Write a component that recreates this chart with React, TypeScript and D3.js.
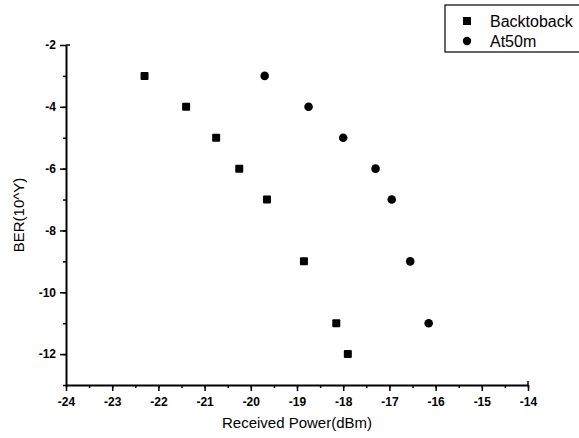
import React, { useEffect, useRef } from "react"
import * as d3 from "d3"

// BER vs received power
const berLevels = [-3, -4, -5, -6, -7, -9, -11, -12]
const backToBackPower = [-22.3, -21.4, -20.75, -20.25, -19.65, -18.85, -18.15, -17.9]
const at50mLevels = [-3, -4, -5, -6, -7, -9, -11]
const at50mPower = [-19.7, -18.75, -18.0, -17.3, -16.95, -16.55, -16.15]
const xTicks = d3.range(-24, -13, 1)
const yTicks = [-2, -4, -6, -8, -10, -12]
const legendNames = ["Backtoback", "At50m"]

const W = 579
const H = 438
const FONT = "Liberation Sans, Arial, sans-serif"

export default function App() {
  const ref = useRef<SVGSVGElement>(null)

  useEffect(() => {
    const svg = d3.select(ref.current)
    svg.selectAll("*").remove()

    const x = d3.scaleLinear().domain([-24, -14]).range([66, 528])
    const y = d3.scaleLinear().domain([-13, -2]).range([385, 45])

    const g = svg.append("g")

    // x axis: major ticks + half-unit minor ticks
    const xAxis = g.append("g").attr("transform", "translate(0,385)")
    xAxis
      .call(
        d3
          .axisBottom(x)
          .tickValues(d3.range(-24, -13.9, 0.5))
          .tickSize(3)
          .tickFormat(() => "")
      )
      .call(a => a.select(".domain").remove())
    xAxis.selectAll("line").attr("stroke", "#000").attr("stroke-width", 1.5)
    const xMajor = g.append("g").attr("transform", "translate(0,385)")
    xMajor
      .call(
        d3
          .axisBottom(x)
          .tickValues(xTicks)
          .tickSize(6)
          .tickSizeOuter(0)
          .tickPadding(6)
          .tickFormat(d => String(d))
      )
    xMajor.select(".domain").attr("stroke", "#000").attr("stroke-width", 2)
    xMajor.selectAll("line").attr("stroke", "#000").attr("stroke-width", 1.5)
    xMajor
      .selectAll("text")
      .attr("font-family", FONT)
      .attr("font-size", 12)
      .attr("font-weight", "bold")
      .attr("fill", "#000")

    // y axis
    const yMinor = g.append("g").attr("transform", "translate(66,0)")
    yMinor
      .call(
        d3
          .axisLeft(y)
          .tickValues(d3.range(-13, -2, 1))
          .tickSize(3)
          .tickFormat(() => "")
      )
      .call(a => a.select(".domain").remove())
    yMinor.selectAll("line").attr("stroke", "#000").attr("stroke-width", 1.5)
    const yMajor = g.append("g").attr("transform", "translate(66,0)")
    yMajor.call(
      d3
        .axisLeft(y)
        .tickValues(yTicks)
        .tickSize(6)
        .tickSizeOuter(0)
        .tickPadding(4)
        .tickFormat(d => String(d))
    )
    yMajor.select(".domain").attr("stroke", "#000").attr("stroke-width", 2)
    yMajor.selectAll("line").attr("stroke", "#000").attr("stroke-width", 1.5)
    yMajor
      .selectAll("text")
      .attr("font-family", FONT)
      .attr("font-size", 12)
      .attr("font-weight", "bold")
      .attr("fill", "#000")
    // small hooks at the axis ends
    g.append("line")
      .attr("x1", 66).attr("x2", 70)
      .attr("y1", y(-2)).attr("y2", y(-2))
      .attr("stroke", "#000").attr("stroke-width", 1.5)
    g.append("line")
      .attr("x1", x(-14)).attr("x2", x(-14))
      .attr("y1", 381).attr("y2", 385)
      .attr("stroke", "#000").attr("stroke-width", 1.5)

    // axis titles
    g.append("text")
      .attr("x", (x(-24) + x(-14)) / 2)
      .attr("y", 428)
      .attr("text-anchor", "middle")
      .attr("font-family", FONT)
      .attr("font-size", 15)
      .attr("fill", "#000")
      .text("Received Power(dBm)")
    g.append("text")
      .attr("transform", `translate(24,${(y(-2) + y(-13)) / 2}) rotate(-90)`)
      .attr("text-anchor", "middle")
      .attr("font-family", FONT)
      .attr("font-size", 15)
      .attr("fill", "#000")
      .text("BER(10^Y)")

    // points
    const sq = 8
    g.selectAll("rect.b2b")
      .data(backToBackPower)
      .enter()
      .append("rect")
      .attr("class", "b2b")
      .attr("x", d => x(d) - sq / 2)
      .attr("y", (d, i) => y(berLevels[i]) - sq / 2)
      .attr("width", sq)
      .attr("height", sq)
      .attr("rx", 1)
      .attr("fill", "#000")
    g.selectAll("circle.at50")
      .data(at50mPower)
      .enter()
      .append("circle")
      .attr("class", "at50")
      .attr("cx", d => x(d))
      .attr("cy", (d, i) => y(at50mLevels[i]))
      .attr("r", 4.3)
      .attr("fill", "#000")

    // legend
    const lg = g.append("g")
    lg.append("rect")
      .attr("x", 445).attr("y", 5)
      .attr("width", 140).attr("height", 47)
      .attr("fill", "none").attr("stroke", "#000").attr("stroke-width", 1.2)
    legendNames.forEach((name, i) => {
      const cy = 21 + i * 20
      if (i === 0) {
        lg.append("rect")
          .attr("x", 467 - 4).attr("y", cy - 4)
          .attr("width", 8).attr("height", 8)
          .attr("fill", "#000")
      } else {
        lg.append("circle").attr("cx", 467).attr("cy", cy).attr("r", 4.2).attr("fill", "#000")
      }
      lg.append("text")
        .attr("x", 490)
        .attr("y", cy + 6)
        .attr("font-family", FONT)
        .attr("font-size", 16)
        .attr("fill", "#000")
        .text(name)
    })
  }, [])

  return (
    <svg
      ref={ref}
      width={W}
      height={H}
      style={{ position: "absolute", left: 0, top: 0, background: "#fff" }}
    />
  )
}
